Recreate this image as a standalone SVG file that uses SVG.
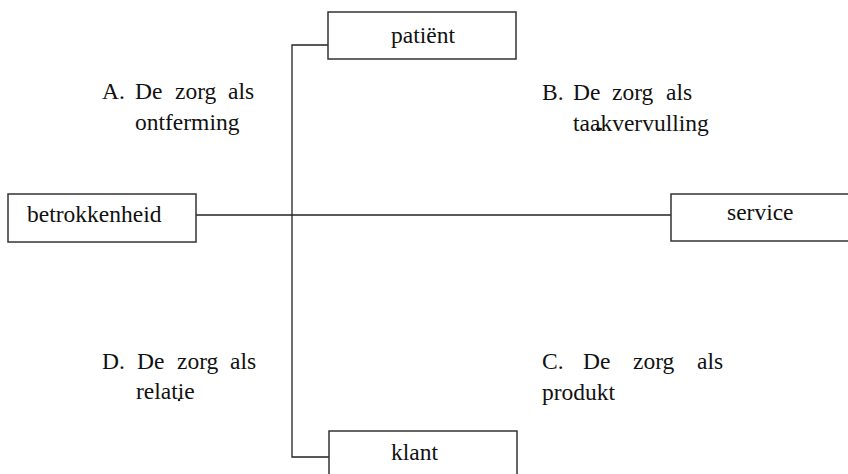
<svg xmlns="http://www.w3.org/2000/svg" width="848" height="474" viewBox="0 0 848 474">
<style>
.box{fill:#fff;stroke:#333;stroke-width:1.5}
.ln{fill:none;stroke:#222;stroke-width:1.3}
.t{font-family:'Liberation Serif','Times New Roman',serif;font-size:23.5px;fill:#111}
.spk{fill:#111}
</style>
<rect width="848" height="474" fill="#fff"/>
<g id="connectors">
<polyline class="ln" points="328,45 292,45 292,457 329,457"/>
<line class="ln" x1="196" y1="215" x2="671" y2="215"/>
</g>
<g class="t">
<g id="patient"><rect class="box" x="328" y="12" width="188" height="47"/><text x="423" y="43" text-anchor="middle">patiënt</text></g>
<g id="betrokkenheid"><rect class="box" x="8" y="194" width="188" height="48"/><text x="27" y="222">betrokkenheid</text></g>
<g id="service"><rect class="box" x="671" y="194" width="190" height="47"/><text x="727" y="220">service</text></g>
<g id="klant"><rect class="box" x="329" y="431" width="188" height="60"/><text x="391" y="460">klant</text></g>
<g id="labelA"><text y="99"><tspan x="102">A.</tspan><tspan x="135">De</tspan><tspan x="175">zorg</tspan><tspan x="228">als</tspan></text><text x="135" y="130">ontferming</text></g>
<g id="labelB"><text y="100"><tspan x="542">B.</tspan><tspan x="573">De</tspan><tspan x="612">zorg</tspan><tspan x="666">als</tspan></text><text x="573" y="131">taakvervulling</text><ellipse class="spk" cx="599" cy="129" rx="3" ry="1.5"/></g>
<g id="labelC"><text y="369"><tspan x="542">C.</tspan><tspan x="583">De</tspan><tspan x="633">zorg</tspan><tspan x="697">als</tspan></text><text x="542" y="400">produkt</text></g>
<g id="labelD"><text y="369"><tspan x="102">D.</tspan><tspan x="137">De</tspan><tspan x="177">zorg</tspan><tspan x="230">als</tspan></text><text x="136" y="399">relatie</text><circle class="spk" cx="179" cy="400" r="1.2"/></g>
</g>
</svg>
